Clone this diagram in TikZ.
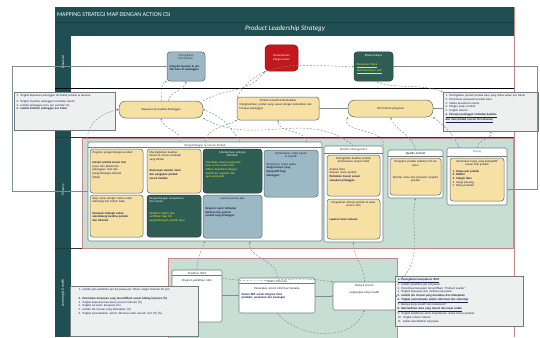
\documentclass[tikz,border=0pt]{standalone}
\usepackage{fontspec}
\setmainfont{Carlito}
\usetikzlibrary{arrows.meta}

\definecolor{frameteal}{HTML}{1F4E53}
\definecolor{barline}{HTML}{163A3E}
\definecolor{mint}{HTML}{C6DED4}
\definecolor{sand}{HTML}{F6E0A4}
\definecolor{slateblue}{HTML}{9CB8C5}
\definecolor{forest}{HTML}{2E5D53}
\definecolor{brick}{HTML}{C1171D}
\definecolor{notegray}{HTML}{EEF0EF}
\definecolor{rose}{HTML}{C98888}
\definecolor{rimgray}{HTML}{56666A}
\definecolor{dashgray}{HTML}{7E8E8E}
\definecolor{hilite}{HTML}{E8F03C}
\definecolor{inkblue}{HTML}{1B1E4A}
\definecolor{linkblue}{HTML}{2F6FB0}

\newcommand\tfont{\fontsize{3}{3.6}\selectfont}

% box from (x1,y1) to (x2,y2) in pixel units, text hung from its top edge
\newcommand\mkbox[7]{%
  \pgfmathsetmacro\bxw{#4-#2}\pgfmathsetmacro\bxh{#5-#3}\pgfmathsetmacro\bxt{#4-#2-5}%
  \node[#6, minimum width=\bxw pt, minimum height=\bxh pt] (#1) at ({(#2+#4)/2},{(#3+#5)/2}) {};
  \node[boxtext, text width=\bxt pt, anchor=north] (#1-t) at ([yshift=-2pt]#1.north) {#7};}

\tikzset{
  every node/.style={font=\tfont, inner sep=0pt, outer sep=0pt},
  boxtext/.style={align=left, text=inkblue, inner sep=0pt},
  sandbox/.style={fill=sand, draw=rimgray, line width=0.5pt, rounded corners=3pt},
  slatebox/.style={fill=slateblue, draw=rimgray, line width=0.5pt, rounded corners=3pt},
  forestbox/.style={fill=forest, draw=rimgray!60!black, line width=0.5pt, rounded corners=3pt},
  brickbox/.style={fill=brick, draw=brick!70!black, line width=0.5pt, rounded corners=4pt, text=white, align=center},
  pill/.style={fill=sand, draw=rimgray, line width=0.5pt, rounded corners=7pt, align=center, text=inkblue},
  notebox/.style={fill=notegray, draw=rimgray!85, line width=0.6pt},
  groupbox/.style={fill=white, draw=rimgray!85, line width=0.6pt, rounded corners=1.5pt},
  lanelabel/.style={rotate=90, text=white, font=\fontsize{3.6}{4}\selectfont},
  flow/.style={draw=dashgray, line width=0.5pt, -{Stealth[length=2.2pt,width=1.8pt]}},
  link/.style={draw=dashgray, line width=0.45pt, dash pattern=on 2pt off 1.5pt, -{Stealth[length=2.2pt,width=1.8pt]}},
}

\begin{document}
\begin{tikzpicture}[x=1pt, y=-1pt]
\useasboundingbox (0,0) rectangle (540,337);

% ---- frame, title bars and lane column
\fill[frameteal] (55,7) rectangle (514,36);
\draw[barline, line width=0.6pt] (55,22) -- (514,22);
\fill[frameteal] (55,36) rectangle (71,337);
\draw[rose, line width=0.6pt] (514,7) -- (514,337);
\node[anchor=west, text=white, font=\fontsize{6}{7}\selectfont] (title) at (57,14.5) {MAPPING STRATEGI MAP DENGAN ACTION CSI};
\node[text=white, font=\fontsize{7}{8}\selectfont\itshape] (subtitle) at (285,29) {Product Leadership Strategy};

% ---- lane separators
\draw[black, line width=0.6pt] (55,88) -- (514,88);
\draw[black!80, line width=0.6pt] (55,137.5) -- (514,137.5);
\draw[black!80, line width=0.6pt] (55,248) -- (514,248);

\node[lanelabel] (lane-fin) at (63,62) {Financial};
\node[lanelabel] (lane-proc) at (63,190) {Process};
\node[lanelabel] (lane-learn) at (63,293) {Learning \& Growth};

% ---- shaded areas of the process and learning lanes
\filldraw[fill=mint, draw=rose, line width=0.7pt] (82,138.5) rectangle (513,248);
\filldraw[fill=mint, draw=rose, line width=0.7pt] (168,258) rectangle (397,345);

% ---- financial lane
\mkbox{F1}{167}{52}{205}{81}{slatebox}{{\centering\color{rimgray!60!black}Peningkatan\\Pendapatan\par}\vspace{4pt}\textbf{Integrasi layanan \& produk baru ke pelanggan}}
\node[brickbox, minimum width=33pt, minimum height=26pt, text width=29pt] (F2) at (281.5,58) {Pertumbuhan Pangsa Pasar};
\mkbox{F3}{354}{52}{393}{81}{forestbox}{{\centering\color{white}Efisiensi Biaya\par}\vspace{6pt}{\color{hilite}\underline{Penurunan biaya}\\\underline{operasional per unit}}}

% ---- customer lane
\mkbox{N1}{14}{92}{115}{130}{notebox}{\vspace{3pt}1. Tingkat kepuasan pelanggan terhadap produk \& layanan\\2. Tingkat loyalitas pelanggan terhadap merek\\3. Jumlah pelanggan baru per periode (\%)\\\textbf{4. Jumlah keluhan pelanggan per bulan}}
\node[pill, minimum width=84pt, minimum height=17pt] (C1) at (161,109.5) {Kepuasan \& Loyalitas Pelanggan};
\mkbox{C2}{237}{97}{319}{120}{sandbox}{{\centering Produk Inovatif \& Berkualitas\par}\vspace{1pt}Menghadirkan produk yang sesuai dengan kebutuhan dan harapan pelanggan}
\node[pill, minimum width=85pt, minimum height=17pt] (C3) at (390.5,108.5) {Citra Merek yang Kuat};
\mkbox{N2}{443}{92}{538}{131}{notebox}{\vspace{1pt}1. Peningkatan jumlah produk baru yang diluncurkan per tahun\\2. Persentase penjualan produk baru\\3. Indeks kesadaran merek\\4. Pangsa pasar produk\\5. Tingkat retensi\\\textbf{\underline{6. Persepsi pelanggan terhadap kualitas}}\\\textbf{\underline{dan nilai produk (survei CSI tahunan)}}}

% ---- process lane
\mkbox{G1}{88}{142}{322}{241}{groupbox}{{\centering\color{rimgray!60!black}Pengembangan \& Inovasi Produk\par}}
\mkbox{P1}{90}{149}{143}{193}{sandbox}{Program pengembangan produk\par\vspace{7pt}\textbf{Inovasi produk sesuai tren}\\pasar dan kebutuhan\\pelanggan; riset dan\\pengembangan berkala\\(R\&D)}
\mkbox{P2}{90}{195}{143}{237}{sandbox}{Kerja sama dengan mitra untuk\\teknologi dan bahan baku\par\vspace{8pt}\textbf{Pemasok strategis untuk}\\\textbf{mendukung kualitas produk}\\\textbf{dan efisiensi}}
\mkbox{P3}{147}{149}{201}{193}{sandbox}{Meningkatkan kualitas\\desain \& proses produksi\\yang efisien\par\vspace{8pt}\textbf{Penerapan standar mutu}\\\textbf{dan pengujian produk}\\\textbf{secara berkala}}
\mkbox{P4}{147}{195}{201}{237}{forestbox}{{\color{white}Pengembangan kompetensi\\tim inovasi}\par\vspace{8pt}{\color{hilite}Pelatihan teknis dan\\sertifikasi bagi tim\\pengembangan produk baru}}
\mkbox{P5}{203}{149}{262}{193}{forestbox}{{\centering\color{white}Memperluas jaringan\\distribusi\par}\vspace{3pt}{\color{hilite}Membuka saluran penjualan\\baru secara online dan\\offline; kemitraan dengan\\distributor regional dan\\agen penjualan}}
\mkbox{P6}{203}{195}{262}{238}{slatebox}{{\centering Layanan purna jual\par}\vspace{7pt}\textbf{Respons cepat terhadap}\\\textbf{keluhan dan garansi}\\\textbf{produk bagi pelanggan}}
\mkbox{P7}{264}{150}{318}{197}{slatebox}{{\centering Optimalisasi rantai pasok\\\& logistik\par}\vspace{4pt}Pengiriman tepat waktu\\\textbf{dengan biaya yang}\\\textbf{kompetitif bagi}\\\textbf{pelanggan}}

\mkbox{G2}{324}{146}{383}{242}{groupbox}{{\centering\color{rimgray!60!black}Product Management\par}}
\mkbox{P8}{327}{155}{380}{196}{sandbox}{{\centering Peningkatan kualitas produk berdasarkan umpan balik\par}\vspace{4pt}Analisis data\\Evaluasi mutu produk\\\textbf{Perbaikan desain sesuai}\\\textbf{masukan pelanggan}}
\mkbox{P9}{327}{199}{380}{239}{sandbox}{{\centering Pengukuran kinerja produk di pasar secara rutin\par}\vspace{10pt}\textbf{Laporan hasil evaluasi}}

\mkbox{G3}{388}{150}{443}{198}{groupbox}{{\centering\color{rimgray!60!black}\textbf{Quality Control}\par}}
\mkbox{P10}{390}{158}{441}{195}{sandbox}{\vspace{1pt}{\centering Pengujian produk sebelum rilis ke pasar\par}\vspace{8pt}{\centering Standar mutu dan prosedur inspeksi produk\par}}

\mkbox{G4}{447}{148}{507}{205}{groupbox}{{\centering\color{linkblue}Pricing\par}}
\mkbox{P11}{450}{158}{504}{201}{sandbox}{{\centering Penetapan harga yang kompetitif sesuai nilai produk\par}\vspace{3pt}\textbf{1. Harga jual produk}\\\textbf{2. Diskon}\\\textbf{3. Margin laba}\\4. Harga pesaing\\5. Biaya produksi}

% header rules of the titled groups
\draw[rimgray!85, line width=0.4pt] ([yshift=-5pt]G1.north west) -- ([yshift=-5pt]G1.north east);
\draw[rimgray!85, line width=0.4pt] ([yshift=-7pt]G2.north west) -- ([yshift=-7pt]G2.north east);
\draw[rimgray!85, line width=0.4pt] ([yshift=-6pt]G3.north west) -- ([yshift=-6pt]G3.north east);
\draw[rimgray!85, line width=0.4pt] ([yshift=-8pt]G4.north west) -- ([yshift=-8pt]G4.north east);

% ---- learning & growth lane
\mkbox{L1}{172}{270}{222}{322}{groupbox}{{\centering\color{rimgray!60!black}Pelatihan SDM\par}\vspace{4pt}{\centering Program pelatihan rutin\par}}
\mkbox{L2}{239}{278}{315}{313}{groupbox}{{\centering\color{rimgray!60!black}Sistem Informasi\par}\vspace{4pt}{\centering Penerapan sistem informasi terpadu\par}\vspace{2pt}\textbf{Sistem ERP untuk integrasi data}\\\textbf{produksi, penjualan dan keuangan}}
\mkbox{L3}{333}{282}{396}{310}{groupbox}{{\centering\color{rimgray!60!black}Budaya Inovasi\par}\vspace{4pt}{\centering Lingkungan kerja kreatif\par}}
\draw[rimgray!85, line width=0.4pt] ([yshift=-5pt]L1.north west) -- ([yshift=-5pt]L1.north east);
\draw[rimgray!85, line width=0.4pt] ([yshift=-5pt]L2.north west) -- ([yshift=-5pt]L2.north east);

\mkbox{N3}{70}{286}{198}{336}{notebox}{\vspace{6pt}\hspace*{6pt}1. Jumlah jam pelatihan per karyawan per tahun, target minimal 40 jam\\\hspace*{6pt}\textbf{2. Persentase karyawan yang tersertifikasi sesuai bidang kerjanya (\%)}\\\hspace*{6pt}3. Tingkat kepuasan karyawan (survei internal) [\%]\\\hspace*{6pt}4. Tingkat turnover karyawan [\%]\\\hspace*{6pt}5. Jumlah ide inovasi yang diterapkan [\%]\\\hspace*{6pt}6. Tingkat pemanfaatan sistem informasi oleh seluruh unit (\%) [\%]}
\mkbox{N4}{395}{276}{523}{326}{notebox}{\textbf{\underline{1. Peningkatan kompetensi SDM}}\\2. Jumlah pelatihan per karyawan\\3. Persentase karyawan tersertifikasi ``Product Leader''\\4. Tingkat kepuasan dan motivasi karyawan\\\textbf{5. Jumlah ide inovasi yang diusulkan dan diterapkan}\\\textbf{\underline{6. Tingkat pemanfaatan sistem informasi dan teknologi}}\\7. Budaya kerja kreatif dan kolaboratif\\\textbf{\underline{8. Ketersediaan data yang akurat dan tepat waktu}}\\9. Tingkat kolaborasi antar departemen untuk inovasi produk\\10. Tingkat retensi talenta\\11. Indeks keterlibatan karyawan}

% ---- solid connectors
\draw[flow] (G1.west) -- ++(-76,0) |- (F1.west);
\draw[flow] (F3.east) -| ([xshift=30pt,yshift=-13pt]G4.east) -- ([yshift=-13pt]G4.east);
\draw[flow] (N1.east |- C1.west) -- (C1.west);
\draw[flow] (C2.east) -- (C3.west);
\draw[flow] (C3.east) -- (N2.west |- C3.east);
\draw[flow] (L1.east |- L2.west) -- (L2.west);
\draw[flow] (L2.east |- L3.west) -- (L3.west);
\draw[flow] (L3.east) -- (N4.west |- L3.east);

% ---- dashed cause-and-effect links
\path[link] (C1.north) to[out=75,in=200] (F1.south west);
\path[link] (C1.50) to[out=80,in=-100] (F1.south);
\path[link] (C2.north west) to[out=60,in=180] (F3.west);
\path[link] (C1.north east) to[out=30,in=235] (F2.south west);
\path[link] (F3.south) to[out=-20,in=160] (N2.north west);
\path[link] (G1.north west) to[out=100,in=190] (C1.west);
\path[link] ([xshift=-25pt]G1.north) to[out=80,in=-80] (C1.south);
\path[link] ([xshift=35pt]G1.north) to[out=120,in=-20] (C1.east);
\path[link] (G2.north) to[out=140,in=-30] (C1.south east);
\path[link] ([xshift=-15pt]G1.north east) to[out=100,in=-90] (C2.south);
\path[link] (G1.north) to[out=80,in=-150] (C2.south west);
\path[link] (G2.north east) to[out=70,in=-120] (C3.south west);
\path[link] (G3.north) to[out=100,in=-70] (C3.south);
\path[link] ([xshift=12pt]G4.north west) to[out=110,in=-40] (C3.south east);
\path[link] (G4.north) to[out=90,in=-70] (N2.south);

\path[link] (L1.north) to[out=90,in=-110] (G1.south);
\path[link] (L2.north) to[out=80,in=-100] ([xshift=45pt]G1.south);
\path[link] (L3.north) to[out=90,in=-90] (G2.south);
\path[link] (L3.north east) to[out=30,in=-100] (G3.south);
\path[link] ([yshift=-8pt]L1.north east) to[out=-10,in=170] (L3.north west);
\path[link] (L2.south) to[out=-50,in=-110] (L3.south);
\end{tikzpicture}
\end{document}
